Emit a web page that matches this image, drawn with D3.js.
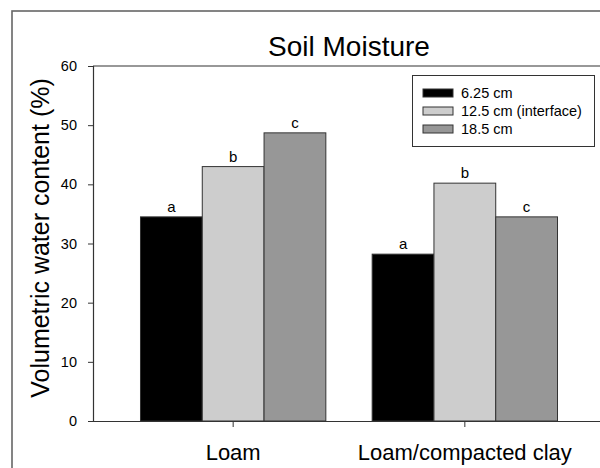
<!DOCTYPE html>
<html>
<head>
<meta charset="utf-8">
<script src="https://cdn.jsdelivr.net/npm/d3@7"></script>
<style>
  body { margin: 0; background: #fff; }
  text { font-family: "Liberation Sans", Arial, sans-serif; fill: #000; }
</style>
</head>
<body>
<div id="chart"></div>
<script>
const groups = ['Loam', 'Loam/compacted clay'];
const series = ['6.25 cm', '12.5 cm (interface)', '18.5 cm'];
const values6 = [34.5, 28.2];
const values12 = [43.0, 40.2];
const values18 = [48.7, 34.5];
const letters6 = ['a', 'a'];
const letters12 = ['b', 'b'];
const letters18 = ['c', 'c'];
const yTicks = [0, 10, 20, 30, 40, 50, 60];

const colors = ['#000000', '#cdcdcd', '#979797'];
const seriesValues = [values6, values12, values18];
const seriesLetters = [letters6, letters12, letters18];

const width = 600;
const height = 468;
const plot = { left: 93, right: 605, top: 66, bottom: 421 };

const svg = d3.select('#chart')
  .append('svg')
  .attr('width', width)
  .attr('height', height);

// outer frame (runs off the right and bottom of the picture)
svg.append('rect')
  .attr('x', 12)
  .attr('y', 11)
  .attr('width', 700)
  .attr('height', 600)
  .attr('fill', 'none')
  .attr('stroke', '#666')
  .attr('stroke-width', 1.6);

const x0 = d3.scaleBand()
  .domain(groups)
  .range([plot.left, plot.right])
  .paddingInner(0.2)
  .paddingOuter(0.205);

const x1 = d3.scaleBand()
  .domain(series)
  .range([0, x0.bandwidth()]);

const y = d3.scaleLinear()
  .domain([0, 60])
  .range([plot.bottom, plot.top]);

// top frame line
svg.append('line')
  .attr('x1', plot.left)
  .attr('x2', width)
  .attr('y1', plot.top)
  .attr('y2', plot.top)
  .attr('stroke', '#333')
  .attr('stroke-width', 1.2);

// bars
series.forEach((s, i) => {
  const g = svg.append('g');
  g.selectAll('rect')
    .data(groups)
    .enter()
    .append('rect')
    .attr('x', d => x0(d) + x1(s))
    .attr('y', (d, j) => y(seriesValues[i][j]))
    .attr('width', x1.bandwidth())
    .attr('height', (d, j) => y(0) - y(seriesValues[i][j]))
    .attr('fill', colors[i])
    .attr('stroke', '#333')
    .attr('stroke-width', 1);

  g.selectAll('text')
    .data(groups)
    .enter()
    .append('text')
    .attr('x', d => x0(d) + x1(s) + x1.bandwidth() / 2)
    .attr('y', (d, j) => y(seriesValues[i][j]) - 5)
    .attr('text-anchor', 'middle')
    .style('font-size', '15px')
    .text((d, j) => seriesLetters[i][j]);
});

// y axis
const yAxis = svg.append('g')
  .attr('transform', `translate(${plot.left},0)`)
  .call(d3.axisLeft(y).tickValues(yTicks).tickSize(5).tickPadding(11));
yAxis.select('.domain').attr('stroke', '#333').attr('stroke-width', 1.2);
yAxis.selectAll('.tick line').attr('stroke', '#333');
yAxis.selectAll('.tick text')
  .style('font-size', '14.5px')
  .style('font-family', '"Liberation Sans", Arial, sans-serif');

// x axis
const xAxis = svg.append('g')
  .attr('transform', `translate(0,${plot.bottom})`)
  .call(d3.axisBottom(x0).tickSize(6).tickPadding(11).tickSizeOuter(0));
xAxis.select('.domain')
  .attr('d', `M${plot.left - 5},0.5H${width}`)
  .attr('stroke', '#333')
  .attr('stroke-width', 1.2);
xAxis.selectAll('.tick line').attr('stroke', '#333');
xAxis.selectAll('.tick text')
  .attr('dy', '1em')
  .style('font-size', '22px')
  .style('font-family', '"Liberation Sans", Arial, sans-serif');

// title
svg.append('text')
  .attr('x', (plot.left + plot.right) / 2)
  .attr('y', 56)
  .attr('text-anchor', 'middle')
  .style('font-size', '28px')
  .text('Soil Moisture');

// y axis label
svg.append('text')
  .attr('transform', 'rotate(-90)')
  .attr('x', -238)
  .attr('y', 49)
  .attr('text-anchor', 'middle')
  .style('font-size', '25px')
  .text('Volumetric water content (%)');

// legend
const legend = svg.append('g');
legend.append('rect')
  .attr('x', 412.5)
  .attr('y', 75.5)
  .attr('width', 182)
  .attr('height', 71)
  .attr('fill', '#fff')
  .attr('stroke', '#333')
  .attr('stroke-width', 1);

const rows = legend.selectAll('g.row')
  .data(series)
  .enter()
  .append('g')
  .attr('class', 'row')
  .attr('transform', (d, i) => `translate(423,${93 + i * 18})`);

rows.append('rect')
  .attr('x', 0)
  .attr('y', -4)
  .attr('width', 30)
  .attr('height', 8)
  .attr('fill', (d, i) => colors[i])
  .attr('stroke', '#333')
  .attr('stroke-width', 1);

rows.append('text')
  .attr('x', 38)
  .attr('y', 5)
  .style('font-size', '14.5px')
  .text(d => d);
</script>
</body>
</html>
